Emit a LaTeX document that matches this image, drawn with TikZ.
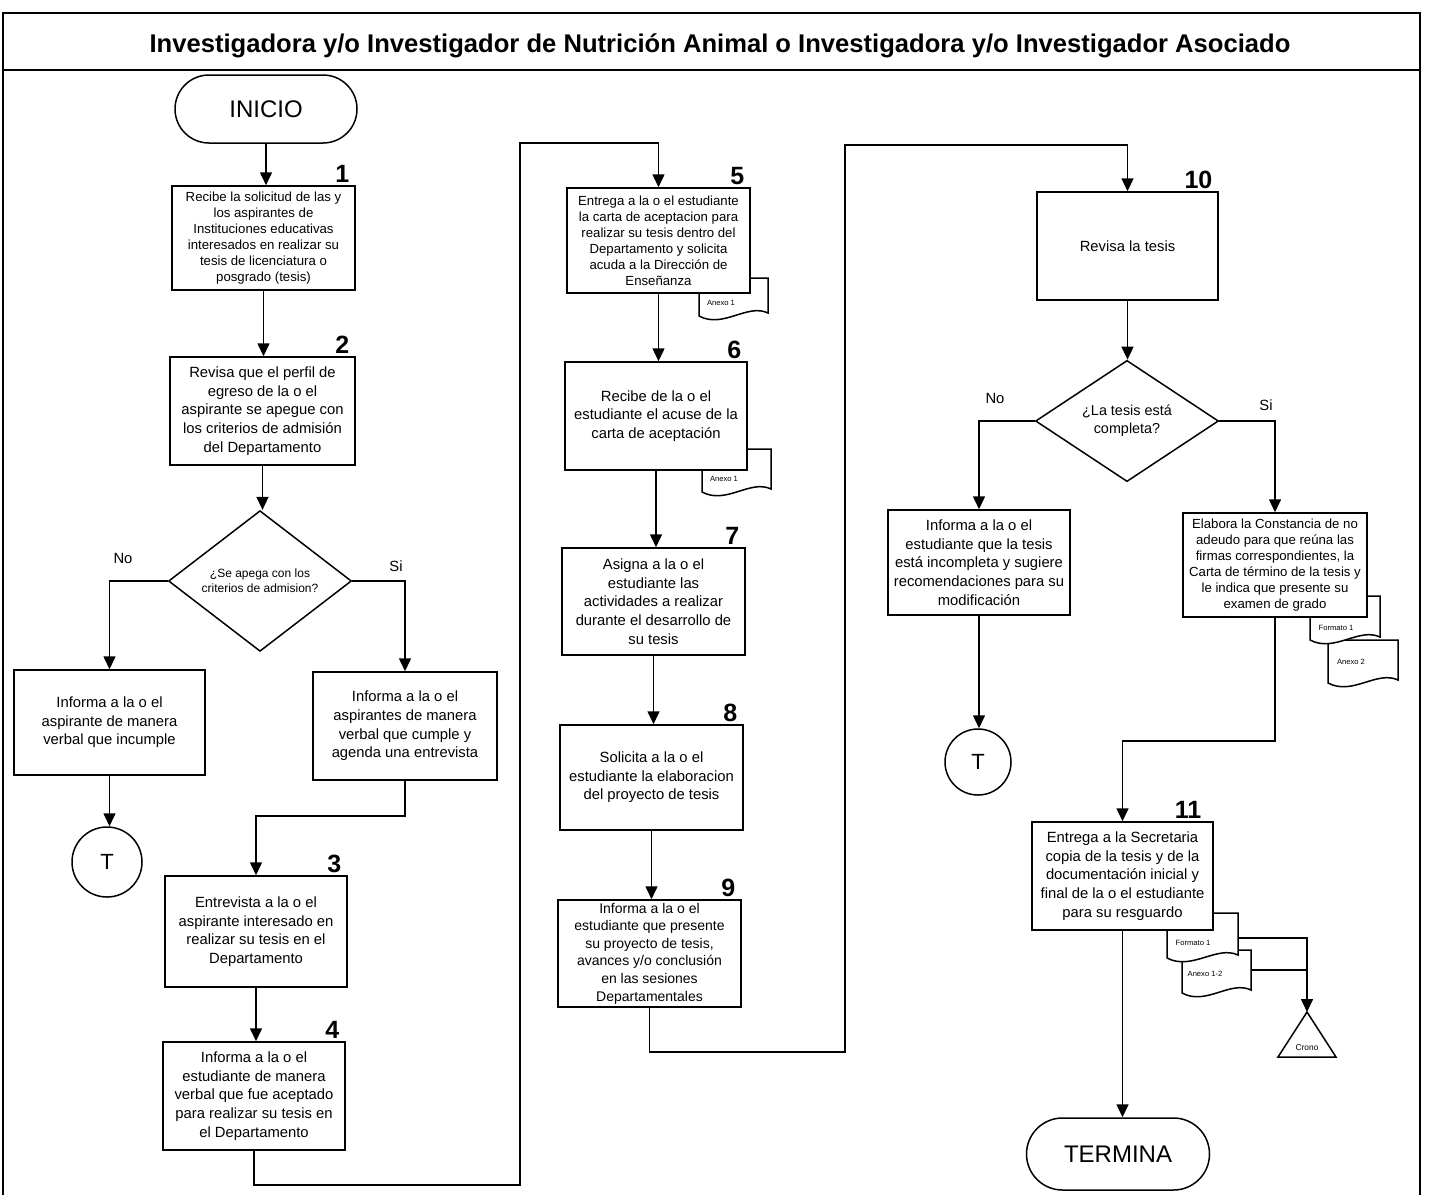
\documentclass[tikz,border=0pt]{standalone}
\usepackage{fontspec}
\setmainfont{Liberation Sans}
\usetikzlibrary{shapes.geometric,arrows.meta}
\newcommand\bx[7]{\node[pbox,#6,minimum width={(#4-#2)*0.5pt},minimum height={(#5-#3)*0.5pt}] (#1) at ({(#2+#4)/2},{(#3+#5)/2}) {#7};}
\newcommand\docsym[8]{%
  \draw[ln,fill=white] (#2,#3) -- (#4,#3) -- (#4,{#5-3}) .. controls ({#4-(#4-#2)*0.3},{#5-13}) and ({#2+(#4-#2)*0.35},{#5+13}) .. (#2,#5) -- cycle;
  \node[doclbl] (#1) at (#6,#7) {#8};}
\begin{document}
\begin{tikzpicture}[x=0.5pt,y=-0.5pt,
  ln/.style={line width=0.75pt},
  arr/.style={line width=0.75pt,-{Triangle[length=6.5pt,width=6pt]}},
  pbox/.style={draw,fill=white,line width=0.75pt,align=center,inner sep=0pt,font=\fontsize{7.4}{9.3}\selectfont},
  sm/.style={font=\fontsize{6.6}{8}\selectfont},
  md/.style={font=\fontsize{7}{8.8}\selectfont},
  num/.style={font=\bfseries\fontsize{12.5}{12.5}\selectfont,inner sep=0pt,anchor=south east},
  term/.style={draw,fill=white,line width=0.75pt,inner sep=0pt,font=\fontsize{12}{12}\selectfont},
  dec/.style={draw,fill=white,diamond,line width=0.75pt,inner sep=0pt,align=center},
  conn/.style={draw,circle,line width=0.75pt,inner sep=0pt,font=\fontsize{11}{11}\selectfont},
  lbl/.style={font=\fontsize{7.4}{9}\selectfont,inner sep=0pt},
  doclbl/.style={font=\fontsize{3.8}{4}\selectfont,inner sep=0pt}]
\useasboundingbox (0,0) rectangle (1439,1195);
% frame and header
\draw[ln] (3,12) -- (3,1195);
\draw[ln] (1420,12) -- (1420,1195);
\draw[ln] (3,13) -- (1420,13);
\draw[ln] (3,70) -- (1420,70);
\node[font=\bfseries\fontsize{12.8}{13}\selectfont,inner sep=0pt] (title) at (720,46) {Investigadora y/o Investigador de Nutrición Animal o Investigadora y/o Investigador Asociado};
% documents (drawn before boxes)
\docsym{dA5}{699}{278}{768}{316}{721}{303}{Anexo 1}
\docsym{dA6}{702}{449}{771}{492}{724}{479}{Anexo 1}
\docsym{dA2}{1328}{640}{1398}{683}{1351}{662}{Anexo 2}
\docsym{dF1}{1310}{596}{1380}{640}{1336}{628}{Formato 1}
\docsym{dA12}{1182}{950}{1251}{993}{1205}{974}{Anexo 1-2}
\docsym{dF11}{1167}{913}{1238}{958}{1193}{943}{Formato 1}
% terminals
\node[term,minimum width=91pt,minimum height=34pt,rounded corners=17pt] (ini) at (266,109) {INICIO};
\node[term,minimum width=91.5pt,minimum height=36pt,rounded corners=18pt] (ter) at (1118,1154) {TERMINA};
% column 1
\bx{b1}{172}{186}{355}{290}{sm}{Recibe la solicitud de las y\\los aspirantes de\\Instituciones educativas\\interesados en realizar su\\tesis de licenciatura o\\posgrado (tesis)}
\bx{b2}{170}{357}{355}{465}{}{Revisa que el perfil de\\egreso de la o el\\aspirante se apegue con\\los criterios de admisión\\del Departamento}
\node[dec,minimum width=91.5pt,minimum height=54pt,font=\fontsize{6}{7.6}\selectfont] (d1) at (260,581) {¿Se apega con los\\criterios de admision?};
\bx{bL}{14}{670}{205}{775}{}{Informa a la o el\\aspirante de manera\\verbal que incumple}
\bx{bR}{313}{672}{497}{780}{}{Informa a la o el\\aspirantes de manera\\verbal que cumple y\\agenda una entrevista}
\node[conn,minimum size=35pt] (t1) at (107,862) {T};
\bx{b3}{165}{876}{347}{987}{}{Entrevista a la o el\\aspirante interesado en\\realizar su tesis en el\\Departamento}
\bx{b4}{163}{1042}{345}{1150}{}{Informa a la o el\\estudiante de manera\\verbal que fue aceptado\\para realizar su tesis en\\el Departamento}
% column 2
\bx{b5}{567}{188}{750}{293}{sm}{Entrega a la o el estudiante\\la carta de aceptacion para\\realizar su tesis dentro del\\Departamento y solicita\\acuda a la Dirección de\\Enseñanza}
\bx{b6}{565}{362}{747}{470}{}{Recibe de la o el\\estudiante el acuse de la\\carta de aceptación}
\bx{b7}{562}{548}{745}{655}{}{Asigna a la o el\\estudiante las\\actividades a realizar\\durante el desarrollo de\\su tesis}
\bx{b8}{560}{725}{743}{830}{}{Solicita a la o el\\estudiante la elaboracion\\del proyecto de tesis}
\bx{b9}{558}{900}{741}{1007}{md}{Informa a la o el\\estudiante que presente\\su proyecto de tesis,\\avances y/o conclusión\\en las sesiones\\Departamentales}
% column 3
\bx{b10}{1037}{192}{1218}{300}{}{Revisa la tesis}
\node[dec,minimum width=91.5pt,minimum height=53pt,font=\fontsize{7.2}{9}\selectfont] (d2) at (1127,421) {¿La tesis está\\completa?};
\bx{bNo}{888}{510}{1070}{615}{}{Informa a la o el\\estudiante que la tesis\\está incompleta y sugiere\\recomendaciones para su\\modificación}
\bx{bSi}{1183}{513}{1367}{617}{sm}{Elabora la Constancia de no\\adeudo para que reúna las\\firmas correspondientes, la\\Carta de término de la tesis y\\le indica que presente su\\examen de grado}
\node[conn,minimum size=33pt] (t2) at (978,762) {T};
\bx{b11}{1032}{822}{1213}{930}{}{Entrega a la Secretaria\\copia de la tesis y de la\\documentación inicial y\\final de la o el estudiante\\para su resguardo}
% Crono
\coordinate (cr) at (1307,1012);
\draw[ln,fill=white] (cr) -- (1336,1057) -- (1278,1057) -- cycle;
\node[doclbl,font=\fontsize{4.2}{4.5}\selectfont] (crono) at (1307,1048) {Crono};
% step numbers
\node[num] (n1) at ([xshift=-3pt,yshift=1pt]b1.north east) {1};
\node[num] (n2) at ([xshift=-3pt,yshift=1pt]b2.north east) {2};
\node[num] (n3) at ([xshift=-3pt,yshift=1pt]b3.north east) {3};
\node[num] (n4) at ([xshift=-3pt,yshift=1pt]b4.north east) {4};
\node[num] (n5) at ([xshift=-3pt,yshift=1pt]b5.north east) {5};
\node[num] (n6) at ([xshift=-3pt,yshift=1pt]b6.north east) {6};
\node[num] (n7) at ([xshift=-3pt,yshift=1pt]b7.north east) {7};
\node[num] (n8) at ([xshift=-3pt,yshift=1pt]b8.north east) {8};
\node[num] (n9) at ([xshift=-3pt,yshift=1pt]b9.north east) {9};
\node[num] (n10) at ([xshift=-3pt,yshift=1pt]b10.north east) {10};
\node[num] (n11) at ([xshift=-6pt,yshift=1pt]b11.north east) {11};
% branch labels
\node[lbl] (no1) at (123,558) {No};
\node[lbl] (si1) at (396,566) {Si};
\node[lbl] (no2) at (995,398) {No};
\node[lbl] (si2) at (1266,405) {Si};
% connectors column 1
\draw[arr] (ini.south) -- (ini.south |- b1.north);
\draw[arr] (b1.south) -- (b1.south |- b2.north);
\draw[arr] (b2.south) -- (b2.south |- d1.north);
\draw[arr] (d1.west) -| (bL.north);
\draw[arr] (d1.east) -| (bR.north);
\draw[arr] (bL.south) -- (bL.south |- t1.north);
\draw[arr] (bR.south) -- ++(0,35) -| (b3.north);
\draw[arr] (b3.south) -- (b3.south |- b4.north);
\coordinate (k1) at (520,1185);
\coordinate (k2) at (520,143);
\draw[arr] (b4.south) |- (k1) -- (k2) -| (b5.north);
% column 2
\draw[arr] (b5.south) -- (b5.south |- b6.north);
\draw[arr] (b6.south) -- (b6.south |- b7.north);
\draw[arr] (b7.south) -- (b7.south |- b8.north);
\draw[arr] (b8.south) -- (b8.south |- b9.north);
\coordinate (k3) at (845,1052);
\coordinate (k4) at (845,145);
\draw[arr] (b9.south) |- (k3) -- (k4) -| (b10.north);
% column 3
\draw[arr] (b10.south) -- (b10.south |- d2.north);
\draw[arr] (d2.west) -| (bNo.north);
\draw[arr] (d2.east) -| (bSi.north);
\draw[arr] (bNo.south) -- (bNo.south |- t2.north);
\draw[arr] (bSi.south) -- ++(0,123) -| (b11.north);
\draw[arr] (b11.south) -- (b11.south |- ter.north);
\coordinate (f11r) at (1238,938);
\coordinate (a12r) at (1251,970);
\draw[arr] (f11r) -| (cr);
\draw[ln] (a12r) -- (a12r -| cr);
\end{tikzpicture}
\end{document}
